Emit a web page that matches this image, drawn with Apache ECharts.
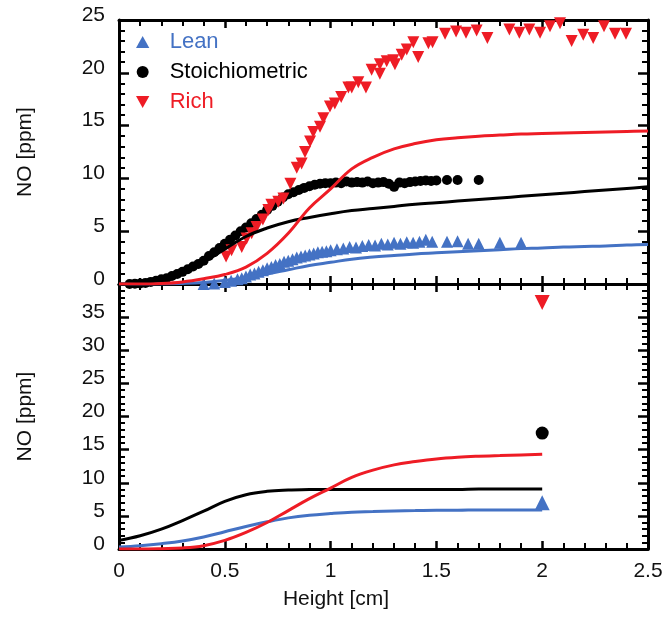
<!DOCTYPE html>
<html>
<head>
<meta charset="utf-8">
<script src="https://cdn.jsdelivr.net/npm/echarts@6/dist/echarts.min.js"></script>
<style>
  html, body { margin: 0; padding: 0; background: #fff; }
  #chart { width: 669px; height: 619px; }
</style>
</head>
<body>
<div id="chart"></div>
<script>
// Model curves, upper panel (x = 0 .. 2.5 cm, step 0.1)
const modelXTop = [0, 0.1, 0.2, 0.3, 0.4, 0.5, 0.6, 0.7, 0.8, 0.9, 1.0, 1.1, 1.2, 1.3, 1.4, 1.5, 1.6, 1.7, 1.8, 1.9, 2.0, 2.1, 2.2, 2.3, 2.4, 2.5];
const leanModelTop = [0, 0, 0, 0.05, 0.15, 0.35, 0.6, 0.95, 1.35, 1.75, 2.05, 2.35, 2.55, 2.7, 2.85, 2.95, 3.05, 3.15, 3.25, 3.35, 3.4, 3.5, 3.55, 3.6, 3.7, 3.75];
const stoichModelTop = [0, 0.1, 0.4, 1.1, 2.1, 3.3, 4.5, 5.3, 5.9, 6.3, 6.65, 6.95, 7.15, 7.35, 7.55, 7.7, 7.85, 8.0, 8.15, 8.3, 8.45, 8.6, 8.75, 8.9, 9.05, 9.2];
const richModelTop = [0, 0, 0.05, 0.2, 0.5, 0.9, 1.6, 2.9, 4.8, 7.2, 9.0, 10.9, 12.0, 12.8, 13.3, 13.65, 13.85, 14.0, 14.1, 14.2, 14.25, 14.3, 14.35, 14.4, 14.45, 14.5];

// Measured NO, upper panel
const leanX = [0.40, 0.45, 0.50, 0.53, 0.56, 0.58, 0.60, 0.62, 0.64, 0.66, 0.68, 0.70, 0.72, 0.74, 0.76, 0.78, 0.80, 0.82, 0.84, 0.86, 0.88, 0.90, 0.92, 0.94, 0.96, 0.98, 1.00, 1.03, 1.06, 1.09, 1.12, 1.15, 1.18, 1.21, 1.24, 1.27, 1.30, 1.33, 1.36, 1.39, 1.42, 1.45, 1.48, 1.55, 1.60, 1.65, 1.70, 1.80, 1.90];
const leanY = [0.0, 0.05, 0.2, 0.3, 0.45, 0.55, 0.7, 0.9, 1.0, 1.15, 1.3, 1.5, 1.6, 1.8, 1.9, 2.1, 2.2, 2.35, 2.5, 2.6, 2.7, 2.8, 2.9, 3.0, 3.05, 3.1, 3.2, 3.3, 3.35, 3.5, 3.45, 3.6, 3.7, 3.65, 3.8, 3.75, 3.9, 3.8, 3.95, 3.9, 4.0, 4.2, 4.0, 4.0, 4.05, 3.8, 3.8, 3.9, 3.9];

const stoichX = [0.050, 0.075, 0.100, 0.125, 0.150, 0.175, 0.200, 0.225, 0.250, 0.275, 0.300, 0.325, 0.350, 0.375, 0.400, 0.425, 0.450, 0.475, 0.500, 0.525, 0.550, 0.575, 0.600, 0.625, 0.650, 0.675, 0.700, 0.725, 0.750, 0.775, 0.800, 0.825, 0.850, 0.875, 0.900, 0.925, 0.950, 0.975, 1.000, 1.025, 1.050, 1.075, 1.100, 1.125, 1.150, 1.175, 1.200, 1.225, 1.250, 1.275, 1.300, 1.325, 1.350, 1.375, 1.400, 1.425, 1.450, 1.475, 1.500, 1.55, 1.60, 1.70];
const stoichY = [0.0, 0.02, 0.05, 0.1, 0.2, 0.3, 0.45, 0.55, 0.75, 0.95, 1.15, 1.4, 1.65, 1.9, 2.2, 2.65, 3.0, 3.4, 3.8, 4.2, 4.6, 5.0, 5.35, 5.75, 6.15, 6.55, 7.0, 7.4, 7.8, 8.2, 8.5, 8.7, 8.9, 9.1, 9.25, 9.4, 9.5, 9.55, 9.55, 9.6, 9.55, 9.7, 9.6, 9.65, 9.6, 9.7, 9.55, 9.6, 9.65, 9.5, 9.2, 9.6, 9.55, 9.65, 9.7, 9.75, 9.8, 9.75, 9.8, 9.85, 9.85, 9.85];

const richX = [0.506, 0.532, 0.58, 0.603, 0.627, 0.65, 0.68, 0.706, 0.72, 0.753, 0.777, 0.81, 0.84, 0.863, 0.879, 0.903, 0.918, 0.95, 0.966, 0.997, 1.02, 1.05, 1.084, 1.10, 1.131, 1.167, 1.194, 1.233, 1.233, 1.265, 1.296, 1.304, 1.336, 1.36, 1.391, 1.414, 1.462, 1.482, 1.541, 1.593, 1.64, 1.69, 1.741, 1.845, 1.892, 1.939, 1.99, 2.037, 2.084, 2.139, 2.194, 2.241, 2.292, 2.344, 2.396];
const richY = [2.6, 3.2, 3.5, 4.3, 4.8, 5.4, 6.1, 7.0, 7.5, 7.8, 8.1, 9.5, 11.0, 11.4, 12.5, 13.5, 14.4, 14.9, 15.7, 16.8, 17.1, 17.7, 18.6, 18.6, 19.1, 18.6, 20.3, 20.8, 19.9, 21.1, 21.2, 20.8, 21.7, 22.2, 22.9, 21.5, 22.8, 22.9, 23.7, 23.9, 23.8, 24.0, 23.3, 24.1, 23.8, 24.1, 23.8, 24.4, 24.7, 23.0, 23.6, 23.3, 24.4, 23.7, 23.7];

// Model curves, lower panel (x = 0 .. 2.0 cm, step 0.1)
const modelXBottom = [0, 0.1, 0.2, 0.3, 0.4, 0.5, 0.6, 0.7, 0.8, 0.9, 1.0, 1.1, 1.2, 1.3, 1.4, 1.5, 1.6, 1.7, 1.8, 1.9, 2.0];
const leanModelBottom = [0.3, 0.5, 0.8, 1.2, 1.8, 2.6, 3.4, 4.1, 4.7, 5.1, 5.35, 5.55, 5.65, 5.75, 5.8, 5.85, 5.85, 5.9, 5.9, 5.9, 5.9];
const stoichModelBottom = [1.3, 2.0, 3.0, 4.3, 5.7, 7.2, 8.2, 8.7, 8.9, 9.0, 9.0, 9.0, 9.0, 9.0, 9.0, 9.0, 9.0, 9.05, 9.05, 9.05, 9.05];
const richModelBottom = [0, 0, 0.05, 0.15, 0.5, 1.3, 2.5, 4.0, 5.8, 7.6, 9.2, 10.8, 11.9, 12.7, 13.2, 13.6, 13.85, 14.0, 14.1, 14.2, 14.3];

// Measured NO at the exit, lower panel
const exitX = [2.0];
const leanExit = [7.0];
const stoichExit = [17.5];
const richExit = [37.2];

const BLUE = '#4472C4';
const RED = '#EE1C25';
const BLACK = '#000000';
const FONT = '"Liberation Sans", Arial, sans-serif';
const UP_TRI = 'path://M5,0 L10,9 L0,9 Z';
const DOWN_TRI = 'path://M0,0 L10,0 L5,9 Z';

const pairs = (xs, ys) => xs.map((x, i) => [x, ys[i]]);

function xAxisFor(grid, pos, labels, title) {
  return {
    type: 'value', gridIndex: grid, position: pos,
    min: 0, max: 2.5, interval: 0.5,
    name: title || '', nameLocation: 'middle', nameGap: 40,
    nameTextStyle: { fontSize: 21, fontFamily: FONT, color: '#111', padding: [0, 95, 0, 0] },
    axisLine: { show: true, onZero: false, lineStyle: { color: BLACK, width: 3 } },
    axisTick: { show: true, inside: true, length: 8, lineStyle: { color: BLACK, width: 2.5 } },
    minorTick: { show: true, splitNumber: 5, length: 6, lineStyle: { color: BLACK, width: 2 } },
    splitLine: { show: false },
    axisLabel: { show: labels, fontSize: 21, color: '#111', fontFamily: FONT, margin: 12 }
  };
}
function yAxisFor(grid, pos, max, labels, title) {
  return {
    type: 'value', gridIndex: grid, position: pos,
    min: 0, max: max, interval: 5,
    name: title || '', nameLocation: 'middle', nameGap: 83,
    nameTextStyle: { fontSize: 21, fontFamily: FONT, color: '#111' },
    axisLine: { show: true, onZero: false, lineStyle: { color: BLACK, width: 3 } },
    axisTick: { show: true, inside: true, length: 10, lineStyle: { color: BLACK, width: 2.5 } },
    minorTick: { show: true, splitNumber: 5, length: 6, lineStyle: { color: BLACK, width: 2 } },
    splitLine: { show: false },
    axisLabel: {
      show: labels, fontSize: 21, color: '#111', fontFamily: FONT, margin: 14,
      verticalAlign: 'bottom', lineHeight: 10,
      formatter: v => (v >= 40 ? '' : String(v))
    }
  };
}
// Smooth model curve without markers
function modelLine(name, xi, yi, xs, ys, color) {
  return {
    name: name, type: 'line', xAxisIndex: xi, yAxisIndex: yi,
    data: pairs(xs, ys), smooth: 0.4, showSymbol: false, symbol: 'none',
    lineStyle: { color: color, width: 3 }
  };
}
// Measured points
function measured(name, xi, yi, xs, ys, color, symbol, size, rotate) {
  return {
    name: name, type: 'scatter', xAxisIndex: xi, yAxisIndex: yi,
    data: pairs(xs, ys), symbol: symbol, symbolSize: size, symbolRotate: rotate || 0,
    itemStyle: { color: color, opacity: 1 }
  };
}

const chart = echarts.init(document.getElementById('chart'), null, { renderer: 'canvas' });
chart.setOption({
  animation: false,
  grid: [
    { left: 119, top: 20, width: 529, height: 264 },
    { left: 119, top: 284, width: 529, height: 265 }
  ],
  xAxis: [
    xAxisFor(0, 'bottom', false),
    xAxisFor(0, 'top', false),
    xAxisFor(1, 'bottom', true, 'Height [cm]'),
    xAxisFor(1, 'top', false)
  ],
  yAxis: [
    yAxisFor(0, 'left', 25, true, 'NO [ppm]'),
    yAxisFor(0, 'right', 25, false),
    yAxisFor(1, 'left', 40, true, 'NO [ppm]'),
    yAxisFor(1, 'right', 40, false)
  ],
  legend: {
    orient: 'vertical', left: 131, top: 26,
    itemWidth: 44, itemHeight: 12, itemGap: 8,
    textStyle: { fontSize: 22, fontFamily: FONT },
    data: [
      { name: 'Lean', icon: UP_TRI, textStyle: { color: BLUE } },
      { name: 'Stoichiometric', icon: 'circle', textStyle: { color: BLACK } },
      { name: 'Rich', icon: DOWN_TRI, textStyle: { color: RED } }
    ]
  },
  series: [
    modelLine('Lean model', 0, 0, modelXTop, leanModelTop, BLUE),
    modelLine('Stoichiometric model', 0, 0, modelXTop, stoichModelTop, BLACK),
    modelLine('Rich model', 0, 0, modelXTop, richModelTop, RED),
    measured('Lean', 0, 0, leanX, leanY, BLUE, 'triangle', 12),
    measured('Stoichiometric', 0, 0, stoichX, stoichY, BLACK, 'circle', 10),
    measured('Rich', 0, 0, richX, richY, RED, 'triangle', 12, 180),
    modelLine('Lean model', 2, 2, modelXBottom, leanModelBottom, BLUE),
    modelLine('Stoichiometric model', 2, 2, modelXBottom, stoichModelBottom, BLACK),
    modelLine('Rich model', 2, 2, modelXBottom, richModelBottom, RED),
    measured('Lean', 2, 2, exitX, leanExit, BLUE, 'triangle', 15),
    measured('Stoichiometric', 2, 2, exitX, stoichExit, BLACK, 'circle', 13),
    measured('Rich', 2, 2, exitX, richExit, RED, 'triangle', 15, 180)
  ]
});
</script>
</body>
</html>
